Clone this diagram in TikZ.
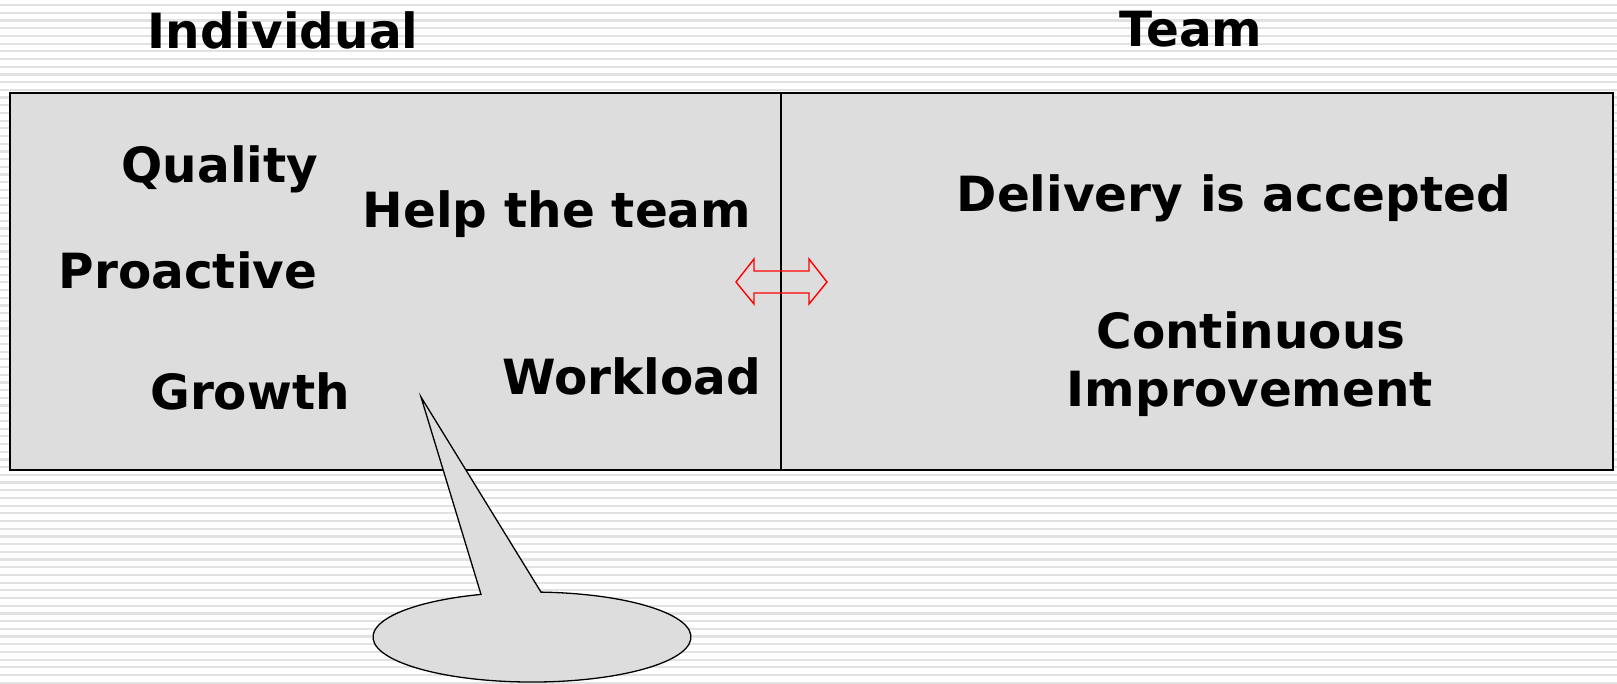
\documentclass[tikz,border=0pt]{standalone}
\usepackage{fontspec}
\setmainfont{DejaVu Sans}
\usetikzlibrary{arrows.meta, positioning}
\definecolor{boxgray}{HTML}{DDDDDD}
\definecolor{stripegray}{HTML}{E2E2E2}

\begin{document}
\begin{tikzpicture}[x=1pt, y=-1pt,
big_text/.style={font=\bfseries\fontsize{48.5}{56}\selectfont, anchor=base, inner sep=0pt},
stripe/.style={fill=stripegray, draw=none},
panel/.style={fill=boxgray, draw=black, line width=1.7pt}
]
\useasboundingbox (0,0) rectangle (1617,683);
% Draw background stripes
    \foreach \i in {0,...,88}
        \fill[stripe] (0,{4+7.7*\i}) rectangle (1617,{6.2+7.7*\i});

% Draw headings
    \node[big_text] (indiv) at (283,48) {Individual};
    \node[big_text] (team) at (1191,46) {Team};

% Draw box
    \draw[panel] (10,93) rectangle (1613,470);
    \draw[line width=1.4pt] (781,93) -- (781,470);

% Draw left items
    \node[big_text] (quality) at (220,182) {Quality};
    \node[big_text] (help) at (557,227) {Help the team};
    \node[big_text] (proactive) at (188,288) {Proactive};
    \node[big_text] (growth) at (250,409) {Growth};
    \node[big_text] (workload) at (632,394) {Workload};
% Draw right items
    \node[big_text] (delivery) at (1234,211) {Delivery is accepted};
    \node[big_text] (cont) at (1251,348) {Continuous};
    \node[big_text] (impr) at (1250,406) {Improvement};

% Draw double arrow
    \draw[red, line width=1.4pt] (736,282) -- (754,259) -- (754,271) -- (809,271)
        -- (809,259) -- (827,282) -- (809,304) -- (809,293) -- (754,293)
        -- (754,304) -- cycle;

% Draw callout
    \coordinate (tip) at (421,397);
    \filldraw[panel, line width=1.3pt] (tip) -- (541,592.1)
        arc[start angle=-86.75, end angle=251.3, x radius=159, y radius=45] -- cycle;
\end{tikzpicture}
\end{document}
